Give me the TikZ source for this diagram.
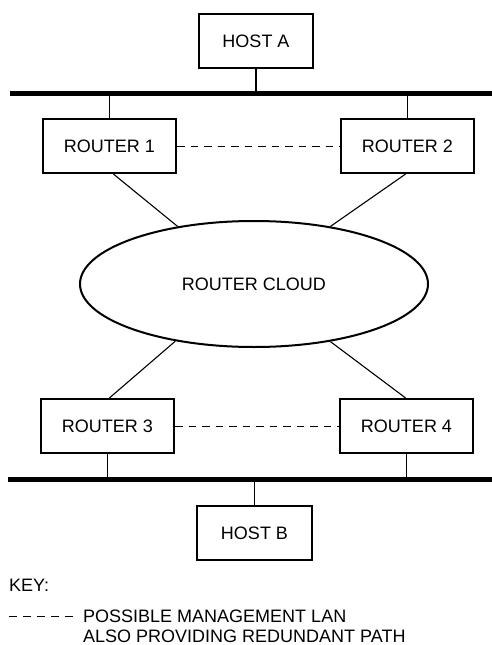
\documentclass[tikz,border=0pt]{standalone}
\usepackage{fontspec}
\setmainfont{Liberation Sans}
\usetikzlibrary{shapes.geometric}

\tikzset{
  box/.style={draw, line width=2.2pt, minimum height=54pt, inner sep=0pt,
              font=\fontsize{18}{20}\selectfont},
  cloudshape/.style={draw, ellipse, line width=2pt, minimum width=348pt,
              minimum height=126pt, inner sep=0pt, font=\fontsize{18}{20}\selectfont},
  bus/.style={line width=4.5pt},
  link/.style={line width=1.1pt},
  mgmt/.style={line width=1pt, dash pattern=on 7.5pt off 6pt},
  keydash/.style={line width=1pt, dash pattern=on 8pt off 6pt},
  keytext/.style={anchor=base west, inner sep=0pt, font=\fontsize{18}{20}\selectfont}
}

\begin{document}
\begin{tikzpicture}[x=1pt, y=-1pt]
  \useasboundingbox (0,0) rectangle (492,645);

  % hosts and routers
  \node[box, minimum width=114pt] (hostA) at (256,41) {HOST A};
  \node[box, minimum width=133pt] (r1) at (109.5,146) {ROUTER 1};
  \node[box, minimum width=133pt] (r2) at (407.5,146) {ROUTER 2};
  \node[box, minimum width=133pt] (r3) at (107.5,426) {ROUTER 3};
  \node[box, minimum width=133pt] (r4) at (406.5,426) {ROUTER 4};
  \node[box, minimum width=115pt] (hostB) at (254.5,533) {HOST B};
  \node[cloudshape] (cloud) at (254,284) {ROUTER CLOUD};

  % LAN segments
  \coordinate (topL) at (10,93.5);
  \coordinate (topR) at (492,93.5);
  \coordinate (botL) at (8,479.5);
  \coordinate (botR) at (492,479.5);
  \draw[bus] (topL) -- (topR);
  \draw[bus] (botL) -- (botR);

  % drops onto the LANs
  \draw[link] (hostA.south) -- (hostA.south |- topL);
  \draw[link] (r1.north) -- (r1.north |- topL);
  \draw[link] (r2.north) -- (r2.north |- topL);
  \draw[link] (r3.south) -- (r3.south |- botL);
  \draw[link] (r4.south) -- (r4.south |- botL);
  \draw[link] (hostB.north) -- (hostB.north |- botL);

  % router links into the cloud
  \draw[link] ([xshift=4pt]r1.south) -- (cloud.143);
  \draw[link] ([xshift=-2pt]r2.south) -- (cloud.37);
  \draw[link] ([xshift=2pt]r3.north) -- (cloud.216);
  \draw[link] ([xshift=-1pt]r4.north) -- (cloud.323);

  % management links
  \draw[mgmt] (r1.east) -- (r2.west);
  \draw[mgmt] (r3.east) -- (r4.west);

  % key
  \node[keytext] (key) at (9,591) {KEY:};
  \coordinate (k1) at (9,616.5);
  \coordinate (k2) at (73,616.5);
  \draw[keydash] (k1) -- (k2);
  \node[keytext] (keyl1) at (83,622) {POSSIBLE MANAGEMENT LAN};
  \node[keytext] (keyl2) at (83,642) {ALSO PROVIDING REDUNDANT PATH};
\end{tikzpicture}
\end{document}
